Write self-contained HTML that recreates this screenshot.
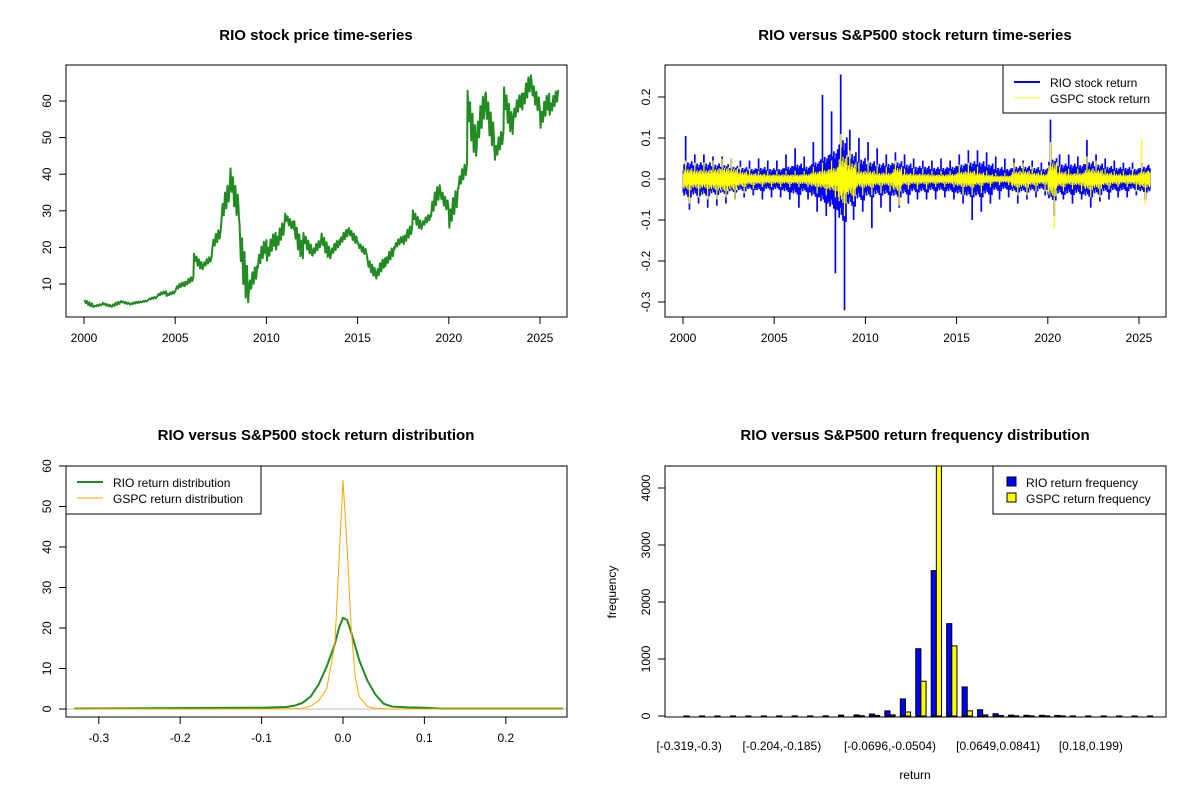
<!DOCTYPE html>
<html><head><meta charset="utf-8"><style>
body{margin:0;background:#fff}
svg{display:block;font-family:"Liberation Sans",Arial,sans-serif}
</style></head><body>
<svg id="c" width="1200" height="800" xmlns="http://www.w3.org/2000/svg"></svg>
<script>
// ---- data ----
const years=[];for(let i=0;i<52;i++)years.push(2000+i*0.5);
const priceHi=[6,4.5,5,5.2,5.5,5.2,5.5,6.5,8,8,10.5,12,19,17.5,25,37.5,44,30,15,22,24,27,30,29,25,22,25,22,25,26,22,18,17,20,23,26,31,29,37,37,36,43,66,62,65,52,66,62,67,67,62,63];
const priceLo=[3.8,3.6,3.8,3.5,4.5,4.2,4.8,5.5,6.5,6.5,8,9,14,14,18.5,25,28,5,6,13,15,18,25,17,18,17,17,17,20,21,18,12,10.5,14,19,20,25,25,27,30,23.5,35,45,45,47,42.5,51,53,56,57,51,55];
const rioMax=[.105,.06,.06,.055,.055,.05,.045,.045,.05,.045,.045,.06,.075,.055,.09,.205,.165,.255,.12,.1,.09,.075,.06,.065,.06,.05,.045,.045,.05,.045,.06,.07,.07,.065,.055,.05,.05,.045,.045,.04,.145,.06,.06,.055,.095,.06,.05,.045,.04,.04,.04,.035];
const rioMin=[-.075,-.06,-.07,-.065,-.06,-.05,-.045,-.04,-.05,-.045,-.045,-.05,-.07,-.05,-.08,-.09,-.23,-.32,-.1,-.08,-.12,-.07,-.08,-.07,-.06,-.05,-.05,-.05,-.045,-.05,-.06,-.1,-.08,-.06,-.05,-.045,-.06,-.05,-.045,-.04,-.09,-.05,-.06,-.05,-.07,-.055,-.05,-.045,-.045,-.04,-.05,-.03];
const rioBand=[.03,.028,.028,.026,.025,.022,.02,.018,.02,.018,.018,.022,.026,.022,.03,.04,.05,.07,.045,.035,.03,.027,.027,.03,.026,.022,.022,.02,.02,.022,.026,.03,.03,.026,.02,.018,.022,.022,.02,.018,.035,.026,.026,.025,.03,.026,.022,.02,.02,.018,.022,.018];
const gspcMax=[.045,.04,.04,.045,.05,.05,.03,.025,.02,.02,.02,.02,.02,.02,.03,.04,.045,.11,.07,.04,.045,.035,.03,.045,.025,.025,.025,.02,.02,.02,.035,.04,.03,.02,.015,.015,.04,.04,.03,.02,.09,.03,.025,.025,.055,.045,.025,.02,.02,.025,.095,.02];
const gspcMin=[-.06,-.045,-.05,-.05,-.045,-.05,-.035,-.025,-.02,-.02,-.02,-.02,-.02,-.02,-.035,-.04,-.045,-.09,-.055,-.04,-.04,-.035,-.03,-.065,-.025,-.025,-.025,-.02,-.02,-.02,-.04,-.04,-.035,-.02,-.015,-.015,-.04,-.04,-.03,-.03,-.12,-.03,-.025,-.03,-.045,-.045,-.025,-.02,-.02,-.03,-.06,-.02];
const gspcBand=[.018,.016,.016,.018,.02,.018,.013,.01,.009,.008,.008,.008,.008,.009,.013,.016,.02,.04,.028,.014,.014,.011,.011,.02,.01,.009,.009,.008,.008,.009,.013,.014,.011,.008,.006,.006,.014,.014,.011,.009,.028,.013,.01,.011,.018,.016,.011,.009,.008,.009,.014,.011];
const densX=[-.33,-.12,-.1,-.07,-.06,-.05,-.04,-.03,-.02,-.01,-.005,0,.005,.01,.015,.02,.03,.04,.05,.06,.08,.1,.12,.27];
const rioDens=[.1,.3,.3,.5,.8,1.5,3,6,10.5,16,20,22.5,22,19,15.5,12,7,3.5,1.3,.6,.4,.3,.1,.1];
const gspcDens=[0,0,0,.05,.1,.2,.7,2,5,16,36,56.5,40,20,8,3,.6,.2,.1,0,0,0,0,0];
const binLabels=["[-0.319,-0.3)","[-0.204,-0.185)","[-0.0696,-0.0504)","[0.0649,0.0841)","[0.18,0.199)"];
const binLabelIdx=[0,6,13,20,26];
const rioFreq=[1,1,1,1,1,1,2,2,2,3,15,18,35,90,300,1180,2550,1620,510,110,40,15,12,12,10,2,2,1,1,1,1];
const gspcFreq=[0,0,0,0,0,0,0,0,0,0,0,5,10,20,70,610,4800,1230,90,20,8,3,2,2,2,0,0,0,0,0,0];

// rendering texture patterns (style only)
const texture=[0.7,1.2,0.9,1.5,0.8,1.1,1.35,0.75,1.0,1.25,0.85,1.45];
const walk=[0.15,0.55,0.3,0.8,0.45,0.95,0.6,1.0];

const svg=document.getElementById('c');const NS='http://www.w3.org/2000/svg';
function el(tag,attrs,parent,txt){const e=document.createElementNS(NS,tag);for(const k in attrs)e.setAttribute(k,attrs[k]);if(txt!==undefined)e.textContent=txt;(parent||svg).appendChild(e);return e;}
function scale(d0,d1,r0,r1){return v=>r0+(v-d0)*(r1-r0)/(d1-d0);}
function box(x0,y0,x1,y1,name){const r=el('rect',{x:x0,y:y0,width:x1-x0,height:y1-y0,fill:'none',stroke:'#000','stroke-width':1});

}
function title(x,y,t,name){const e=el('text',{x:x,y:y,'text-anchor':'middle','font-size':15,'font-weight':'bold'},svg,t);

}
function xTicks(vals,labs,sx,yb,name){const g=el('g',{});


vals.forEach((v,i)=>{const x=sx(v);el('line',{x1:x,x2:x,y1:yb,y2:yb+7,stroke:'#000'},g);el('text',{x:x,y:yb+25,'text-anchor':'middle','font-size':12},g,labs[i]);});
el('line',{x1:sx(vals[0]),x2:sx(vals[vals.length-1]),y1:yb,y2:yb,stroke:'#000'},g);}
function yTicks(vals,labs,sy,xl,name){const g=el('g',{});


vals.forEach((v,i)=>{const y=sy(v);el('line',{x1:xl,x2:xl-7,y1:y,y2:y,stroke:'#000'},g);el('text',{x:xl-15,y:y,'text-anchor':'middle','font-size':12,transform:`rotate(-90 ${xl-15} ${y})`},g,labs[i]);});
el('line',{x1:xl,x2:xl,y1:sy(vals[0]),y2:sy(vals[vals.length-1]),stroke:'#000'},g);}
function clip(id,x0,y0,x1,y1){const cp=el('clipPath',{id:id});el('rect',{x:x0,y:y0,width:x1-x0,height:y1-y0},cp);}

// ---- Panel 1: price ----
{const sx=scale(2000,2025,84,540),sy=scale(10,60,284,101);
clip('c1',66,65,567,317);
const pts=[];
years.forEach((t,i)=>{const nm=i<51?(priceHi[i+1]+priceLo[i+1])/2:priceHi[i];const m=(priceHi[i]+priceLo[i])/2;
const up=nm>=m;const n=walk.length;
walk.forEach((f,k)=>{const ff=up?f:1-f;pts.push([sx(t+0.03+k*0.47/(n-1)),sy(priceLo[i]+ff*(priceHi[i]-priceLo[i]))]);});});
const p=el('polyline',{points:pts.map(q=>q.join(',')).join(' '),fill:'none',stroke:'#228B22','stroke-width':2,'stroke-linejoin':'round','clip-path':'url(#c1)'});


box(66,65,567,317,'price-plot-area');
title(316,40,'RIO stock price time-series','price-chart-title');
xTicks([2000,2005,2010,2015,2020,2025],['2000','2005','2010','2015','2020','2025'],sx,317,'price-x-axis');
yTicks([10,20,30,40,50,60],['10','20','30','40','50','60'],sy,66,'price-y-axis');}

// ---- Panel 2: returns ----
{const sx=scale(2000,2025,683,1139),sy=scale(0,0.2,179,97);
function series(band,mx,mn,color,sw,name){const g=el('g',{});


years.forEach((t,i)=>{const end=Math.min(t+0.5,2025.6);const n=texture.length;
for(let k=0;k<n;k++){const tt=t+(k+0.5)*(end-t)/n;const x=sx(tt);
const h=band[i]*texture[k],l=band[i]*texture[(k+5)%n];
const top=k===3?mx[i]:Math.min(h,mx[i]),bot=k===8?mn[i]:Math.max(-l,mn[i]);
el('line',{x1:x,x2:x,y1:sy(top),y2:sy(bot),stroke:color,'stroke-width':sw},g);}});}
series(rioBand,rioMax,rioMin,'#0000FF',1.7,'rio-return-series');
series(gspcBand,gspcMax,gspcMin,'#FFFF00',1.2,'gspc-return-series');
box(665,65,1166,317,'returns-plot-area');
title(915,40,'RIO versus S&P500 stock return time-series','returns-chart-title');
xTicks([2000,2005,2010,2015,2020,2025],['2000','2005','2010','2015','2020','2025'],sx,317,'returns-x-axis');
yTicks([-0.3,-0.2,-0.1,0,0.1,0.2],['-0.3','-0.2','-0.1','0.0','0.1','0.2'],sy,665,'returns-y-axis');
const lg=el('g',{});


el('rect',{x:1003,y:65,width:163,height:48,fill:'#fff',stroke:'#000'},lg);
el('line',{x1:1014,x2:1040,y1:82,y2:82,stroke:'#0000FF','stroke-width':2},lg);
el('text',{x:1050,y:87,'font-size':12},lg,'RIO stock return');
el('line',{x1:1014,x2:1040,y1:98,y2:98,stroke:'#FFFF00','stroke-width':1},lg);
el('text',{x:1050,y:103,'font-size':12},lg,'GSPC stock return');}

// ---- Panel 3: density ----
{const sx=scale(0,0.1,343,424.4),sy=scale(0,60,709,466);
clip('c3',66,466,567,717);
const gl=el('line',{x1:66,x2:567,y1:sy(0),y2:sy(0),stroke:'#bebebe'});


const pr=el('polyline',{points:densX.map((x,i)=>sx(x)+','+sy(rioDens[i])).join(' '),fill:'none',stroke:'#228B22','stroke-width':2,'clip-path':'url(#c3)'});


const pg=el('polyline',{points:densX.map((x,i)=>sx(x)+','+sy(gspcDens[i])).join(' '),fill:'none',stroke:'#FFA500','stroke-width':1,'clip-path':'url(#c3)'});


box(66,466,567,717,'density-plot-area');
title(316,440,'RIO versus S&P500 stock return distribution','density-chart-title');
xTicks([-0.3,-0.2,-0.1,0,0.1,0.2],['-0.3','-0.2','-0.1','0.0','0.1','0.2'],sx,717,'density-x-axis');
yTicks([0,10,20,30,40,50,60],['0','10','20','30','40','50','60'],sy,66,'density-y-axis');
const lg=el('g',{});


el('rect',{x:66,y:466,width:195,height:48,fill:'#fff',stroke:'#000'},lg);
el('line',{x1:77,x2:103,y1:482,y2:482,stroke:'#228B22','stroke-width':2},lg);
el('text',{x:113,y:487,'font-size':12},lg,'RIO return distribution');
el('line',{x1:77,x2:103,y1:498,y2:498,stroke:'#FFA500','stroke-width':1},lg);
el('text',{x:113,y:503,'font-size':12},lg,'GSPC return distribution');}

// ---- Panel 4: histogram ----
{const bw=5.15,sy=scale(0,4000,716,488);
const gx=i=>684+i*3*bw;
clip('c4',665,466,1166,717);
const g=el('g',{'clip-path':'url(#c4)'});


rioFreq.forEach((v,i)=>{const x=gx(i);
el('rect',{x:x,y:sy(v),width:bw,height:sy(0)-sy(v),fill:'#0000FF',stroke:'#000','stroke-width':1},g);
const w=gspcFreq[i];el('rect',{x:x+bw,y:sy(w),width:bw,height:sy(0)-sy(w),fill:'#FFFF00',stroke:'#000','stroke-width':1},g);});
box(665,466,1166,717,'histogram-plot-area');
title(915,440,'RIO versus S&P500 return frequency distribution','histogram-chart-title');
yTicks([0,1000,2000,3000,4000],['0','1000','2000','3000','4000'],sy,665,'histogram-y-axis');
const xg=el('g',{});


binLabelIdx.forEach((b,i)=>{el('text',{x:gx(b)+bw,y:750,'text-anchor':'middle','font-size':12},xg,binLabels[i]);});
const xt=el('text',{x:915,y:779,'text-anchor':'middle','font-size':12},svg,'return');


const yt=el('text',{x:616,y:592,'text-anchor':'middle','font-size':12,transform:'rotate(-90 616 592)'},svg,'frequency');


const lg=el('g',{});


el('rect',{x:993,y:466,width:173,height:48,fill:'#fff',stroke:'#000'},lg);
el('rect',{x:1007,y:477,width:9,height:9,fill:'#0000FF',stroke:'#000'},lg);
el('text',{x:1026,y:487,'font-size':12},lg,'RIO return frequency');
el('rect',{x:1007,y:493,width:9,height:9,fill:'#FFFF00',stroke:'#000'},lg);
el('text',{x:1026,y:503,'font-size':12},lg,'GSPC return frequency');}
</script>
</body></html>
